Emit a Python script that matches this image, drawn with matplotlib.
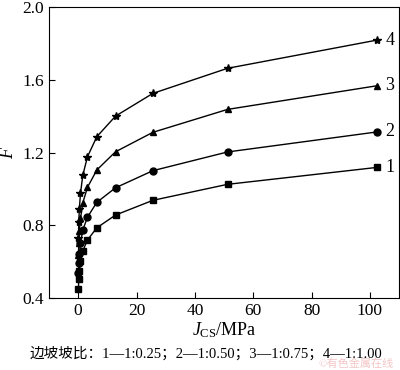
import matplotlib
matplotlib.use('Agg')
import matplotlib.pyplot as plt

# J_CS values (MPa), doubling series
jcs = [0.1, 0.2, 0.4, 0.8, 1.6, 3.2, 6.4, 12.8, 25.6, 51.2, 102.4]

f_1 = [0.45, 0.503, 0.55, 0.603, 0.66, 0.719, 0.786, 0.856, 0.937, 1.025, 1.118]
f_2 = [0.536, 0.59, 0.64, 0.70, 0.774, 0.845, 0.926, 1.006, 1.10, 1.203, 1.313]
f_3 = [0.636, 0.70, 0.768, 0.838, 0.924, 1.009, 1.104, 1.204, 1.311, 1.437, 1.567]
f_4 = [0.728, 0.816, 0.889, 0.976, 1.076, 1.177, 1.287, 1.40, 1.525, 1.663, 1.818]

series = [f_1, f_2, f_3, f_4]
markers = ['s', 'o', '^', '*']
labels = ['1', '2', '3', '4']

serif = ['Liberation Serif', 'Noto Sans CJK SC', 'DejaVu Sans']
plt.rcParams['font.family'] = serif
plt.rcParams['mathtext.fontset'] = 'custom'
plt.rcParams['mathtext.rm'] = 'Liberation Serif'
plt.rcParams['mathtext.it'] = 'Liberation Serif:italic'

fig = plt.figure(figsize=(4, 3.7), dpi=100)
ax = fig.add_axes([0.1225, 0.1946, 0.875, 0.7864])

for vals, m, lab in zip(series, markers, labels):
    ms = 6 if m == '*' else 5
    ax.plot(jcs, vals, color='black', linewidth=1, marker=m, markersize=ms)
    ax.text(jcs[-1] + 3, vals[-1], lab, fontsize=13, va='center', ha='left')

ax.set_xlim(-10, 110)
ax.set_ylim(0.4, 2.0)
ax.set_xticks([0, 20, 40, 60, 80, 100])
ax.set_yticks([0.4, 0.8, 1.2, 1.6, 2.0])
ax.set_yticklabels(['0.4', '0.8', '1.2', '1.6', '2.0'])
ax.tick_params(direction='in', labelsize=12.5, length=4, width=0.8)
for sp in ax.spines.values():
    sp.set_linewidth(0.8)

ax.set_xlabel('$J_{\\rm CS}$/MPa', fontsize=13, labelpad=1)
ax.set_ylabel('$F$', fontsize=13, labelpad=4)

fig.text(0.515, 0.045, '边坡坡比：1—1:0.25；2—1:0.50；3—1:0.75；4—1:1.00',
         ha='center', va='center', fontsize=10.5)
fig.text(0.985, 0.003, '©有色金属在线', ha='right', va='bottom', fontsize=8,
         color='#f4c6c6')

fig.savefig('out.png', dpi=100)
